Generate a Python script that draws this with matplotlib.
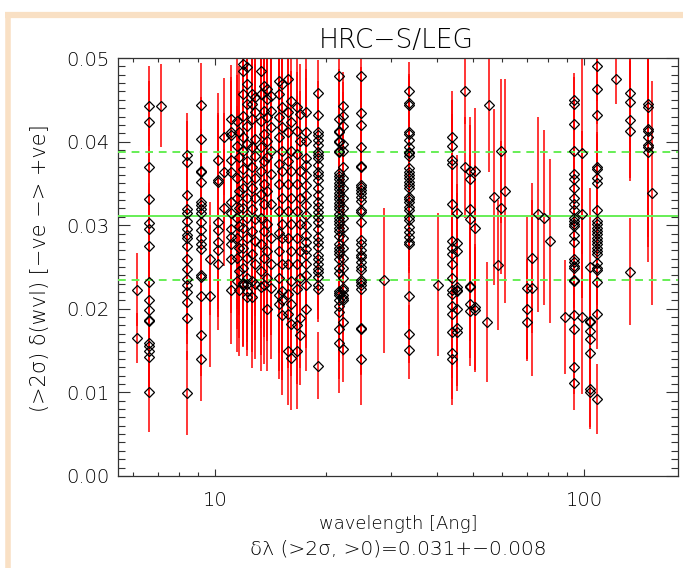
import numpy as np
import matplotlib
matplotlib.use('Agg')
import matplotlib.pyplot as plt
from matplotlib.lines import Line2D
from matplotlib.ticker import LogLocator, MultipleLocator, NullFormatter, FixedLocator, FixedFormatter

# wavelength of each line group [Ang]
line_wvl = [6.16, 6.64, 7.12, 8.38, 9.15, 9.67, 10.17, 10.58, 11.03, 11.45,
            11.6, 11.9, 12.2, 12.6, 12.85, 13.3, 13.55, 13.85, 14.2, 14.9,
            15.15, 15.75, 16.05, 16.7, 16.95, 17.6, 18.97,
            21.7, 22.2, 24.83, 28.77, 33.62, 40.28, 44.0, 45.2, 47.6, 49.2,
            50.7, 54.7, 55.4, 57.0, 58.5, 59.6, 61.1, 69.9, 72.2, 75.2,
            77.9, 80.9, 88.5, 94.1, 98.6, 103.8, 108.2, 122.1, 133.3, 148.8,
            152.6]

# measured wavelength shifts (>2 sigma) for each group
line_shift = [
    [0.0223, 0.0165],
    [0.0443, 0.0424, 0.0369, 0.0331, 0.0302, 0.0295, 0.0275, 0.0232, 0.0210, 0.0198,
     0.0186, 0.0185, 0.0159, 0.0155, 0.0150, 0.0142, 0.0100],
    [0.0443],
    [0.0384, 0.0375, 0.0336, 0.0319, 0.0315, 0.0305, 0.0295, 0.0288, 0.0285, 0.0275,
     0.0260, 0.0248, 0.0236, 0.0229, 0.0220, 0.0208, 0.0189, 0.0099],
    [0.0444, 0.0403, 0.0365, 0.0364, 0.0352, 0.0328, 0.0324, 0.0319, 0.0314, 0.0304,
     0.0294, 0.0285, 0.0277, 0.0271, 0.0240, 0.0238, 0.0215, 0.0169, 0.0140],
    [0.0260, 0.0215],
    [0.0378, 0.0354, 0.0352, 0.0304, 0.0294, 0.0280, 0.0270, 0.0254],
    [0.0406, 0.0364, 0.0321],
    [0.0427, 0.0412, 0.0408, 0.0378, 0.0364, 0.0328, 0.0314, 0.0296, 0.0286, 0.0278,
     0.0260, 0.0223],
    [0.0425, 0.0395, 0.0357, 0.0333, 0.0309, 0.0285, 0.0261, 0.0233],
    [0.0411, 0.0381, 0.0341, 0.0321, 0.0299, 0.0273, 0.0245, 0.0223],
    [0.0493, 0.0485, 0.0457, 0.0431, 0.0405, 0.0389, 0.0367, 0.0345, 0.0321, 0.0297,
     0.0273, 0.0249, 0.0229, 0.0231],
    [0.0489, 0.0469, 0.0445, 0.0419, 0.0397, 0.0377, 0.0355, 0.0333, 0.0309, 0.0285,
     0.0261, 0.0237, 0.0221, 0.0230, 0.0214],
    [0.0457, 0.0445, 0.0427, 0.0393, 0.0369, 0.0345, 0.0319, 0.0293, 0.0265, 0.0233,
     0.0214],
    [0.0453, 0.0435, 0.0403, 0.0383, 0.0357, 0.0333, 0.0307, 0.0281, 0.0253, 0.0230],
    [0.0485, 0.0457, 0.0425, 0.0393, 0.0365, 0.0337, 0.0309, 0.0277, 0.0245, 0.0226],
    [0.0467, 0.0437, 0.0409, 0.0377, 0.0349, 0.0325, 0.0293, 0.0261, 0.0229],
    [0.0463, 0.0451, 0.0429, 0.0401, 0.0381, 0.0341, 0.0301, 0.0269, 0.0237, 0.0200],
    [0.0455, 0.0437, 0.0417, 0.0389, 0.0361, 0.0325, 0.0285, 0.0253, 0.0225],
    [0.0473, 0.0457, 0.0429, 0.0405, 0.0373, 0.0349, 0.0317, 0.0291, 0.0269, 0.0237,
     0.0216, 0.0206],
    [0.0469, 0.0441, 0.0417, 0.0389, 0.0365, 0.0333, 0.0301, 0.0285, 0.0253, 0.0221,
     0.0210, 0.0192],
    [0.0475, 0.0435, 0.0411, 0.0377, 0.0349, 0.0317, 0.0285, 0.0253, 0.0218, 0.0194,
     0.0150],
    [0.0449, 0.0423, 0.0389, 0.0365, 0.0333, 0.0301, 0.0269, 0.0233, 0.0206, 0.0182,
     0.0141],
    [0.0441, 0.0413, 0.0385, 0.0349, 0.0317, 0.0285, 0.0253, 0.0224, 0.0180, 0.0150],
    [0.0433, 0.0401, 0.0365, 0.0333, 0.0301, 0.0269, 0.0237, 0.0189, 0.0169],
    [0.0435, 0.0412, 0.0401, 0.0380, 0.0372, 0.0360, 0.0348, 0.0336, 0.0324, 0.0312,
     0.0300, 0.0288, 0.0280, 0.0272, 0.0264, 0.0254, 0.0240, 0.0228, 0.0200],
    [0.0458, 0.0432, 0.0412, 0.0408, 0.0402, 0.0396, 0.0388, 0.0384, 0.0380, 0.0372,
     0.0364, 0.0360, 0.0354, 0.0344, 0.0336, 0.0328, 0.0322, 0.0316, 0.0310, 0.0304,
     0.0296, 0.0286, 0.0280, 0.0274, 0.0264, 0.0260, 0.0254, 0.0248, 0.0244, 0.0238,
     0.0228, 0.0224, 0.0132],
    [0.0478, 0.0427, 0.0413, 0.0411, 0.0401, 0.0399, 0.0389, 0.0387, 0.0363, 0.0359,
     0.0355, 0.0351, 0.0347, 0.0343, 0.0339, 0.0335, 0.0331, 0.0327, 0.0323, 0.0319,
     0.0313, 0.0309, 0.0305, 0.0301, 0.0297, 0.0293, 0.0287, 0.0277, 0.0273, 0.0269,
     0.0265, 0.0259, 0.0249, 0.0243, 0.0221, 0.0217, 0.0219, 0.0210, 0.0203, 0.0196,
     0.0176, 0.0159],
    [0.0443, 0.0431, 0.0419, 0.0397, 0.0389, 0.0369, 0.0357, 0.0345, 0.0333, 0.0321,
     0.0309, 0.0297, 0.0285, 0.0273, 0.0261, 0.0249, 0.0237, 0.0225, 0.0213, 0.0222,
     0.0216, 0.0210, 0.0184, 0.0152],
    [0.0478, 0.0434, 0.0420, 0.0394, 0.0371, 0.0370, 0.0348, 0.0346, 0.0342, 0.0338,
     0.0334, 0.0329, 0.0318, 0.0316, 0.0304, 0.0282, 0.0278, 0.0270, 0.0264, 0.0262,
     0.0256, 0.0250, 0.0246, 0.0234, 0.0228, 0.0224, 0.0232, 0.0177, 0.0176, 0.0140],
    [0.0234],
    [0.0460, 0.0446, 0.0444, 0.0411, 0.0409, 0.0402, 0.0394, 0.0388, 0.0386, 0.0383,
     0.0368, 0.0364, 0.0360, 0.0356, 0.0352, 0.0348, 0.0345, 0.0334, 0.0331, 0.0328,
     0.0322, 0.0318, 0.0310, 0.0306, 0.0298, 0.0292, 0.0286, 0.0280, 0.0278, 0.0215,
     0.0170, 0.0151],
    [0.0229],
    [0.0405, 0.0395, 0.0378, 0.0373, 0.0325, 0.0281, 0.0273, 0.0265, 0.0253, 0.0237,
     0.0223, 0.0218, 0.0203, 0.0194, 0.0172, 0.0147, 0.0140],
    [0.0314, 0.0279, 0.0269, 0.0221, 0.0226, 0.0223, 0.0200, 0.0177, 0.0172],
    [0.0461, 0.0369],
    [0.0365, 0.0355, 0.0319, 0.0307, 0.0226, 0.0227, 0.0206, 0.0197],
    [0.0365, 0.0297, 0.0202, 0.0199],
    [0.0184],
    [0.0444],
    [0.0334],
    [0.0252],
    [0.0389, 0.0321],
    [0.0341],
    [0.0225, 0.0200, 0.0184],
    [0.0261, 0.0225],
    [0.0313],
    [0.0309],
    [0.0281],
    [0.0190],
    [0.0450, 0.0445, 0.0421, 0.0389, 0.0361, 0.0355, 0.0344, 0.0333, 0.0325, 0.0318,
     0.0309, 0.0305, 0.0301, 0.0299, 0.0288, 0.0280, 0.0259, 0.0256, 0.0251, 0.0249,
     0.0233, 0.0234, 0.0193, 0.0176, 0.0130, 0.0111],
    [0.0386, 0.0313, 0.0190],
    [0.0250, 0.0185, 0.0184, 0.0173, 0.0164, 0.0147, 0.0104, 0.0100],
    [0.0491, 0.0463, 0.0432, 0.0369, 0.0367, 0.0356, 0.0350, 0.0318, 0.0305, 0.0301,
     0.0297, 0.0293, 0.0289, 0.0285, 0.0281, 0.0277, 0.0273, 0.0269, 0.0265, 0.0255,
     0.0249, 0.0246, 0.0232, 0.0194, 0.0092],
    [0.0475],
    [0.0458, 0.0447, 0.0426, 0.0413, 0.0244],
    [0.0445, 0.0441, 0.0415, 0.0413, 0.0405, 0.0396, 0.0394, 0.0387],
    [0.0338],
]

# 1-sigma error: one number for the whole group, or one per point
line_err = [
    [0.0044, 0.0030], 0.0048, [0.0050], 0.0050, 0.0050, [0.0068, 0.0085], 0.0080,
    0.0070, 0.0065, 0.0085, 0.0080, 0.0075, 0.0070, 0.0085, 0.0090, 0.0100, 0.0095,
    0.0075, 0.0085, 0.0090, 0.0095, 0.0065, 0.0062, 0.0070, 0.0060, 0.0075, 0.0040,
    0.0060, 0.0040, 0.0055, [0.0087], 0.0035, [0.0085],
    0.0055, 0.0070, [0.0040, 0.0060], 0.0065, 0.0075, [0.0072], [0.0080], [0.0105],
    [0.0078], [0.0086, 0.0080], [0.0134], [0.0085, 0.0060, 0.0046], [0.0090, 0.0105],
    [0.0117], [0.0105], [0.0098], [0.0068], 0.0032, [0.0120, 0.0100, 0.0092],
    [0.0095, 0.0060, 0.0060, 0.0055, 0.0055, 0.0050, 0.0045, 0.0044], 0.0042,
    [0.0030], [0.0060, 0.0060, 0.0070, 0.0060, 0.0064],
    [0.0060, 0.0065, 0.0080, 0.0090, 0.0100, 0.0110, 0.0120, 0.0131], [0.0134],
]

mean_shift = 0.0311
sd_shift = 0.0077

plt.rcParams['font.family'] = ['DejaVu Sans']
plt.rcParams['font.size'] = 14
plt.rcParams['font.weight'] = 200

fig = plt.figure(figsize=(6.83, 5.68), dpi=100)
ax = fig.add_axes([118.3 / 683, 92.1 / 568, 560 / 683, 417.9 / 568])

xs_all, ys_all = [], []
for wl, ys, err in zip(line_wvl, line_shift, line_err):
    ys = np.array(ys)
    if isinstance(err, list):
        e = np.array(err)
    else:
        e = np.full(len(ys), err)
    xs = np.full(len(ys), wl)
    ax.vlines(xs, ys - e, ys + e, colors='#ff0000', lw=1.3, alpha=0.85, zorder=2)
    xs_all.extend(xs)
    ys_all.extend(ys)

ax.plot(xs_all, ys_all, 'D', ms=4.8, mfc='none', mec='black', mew=0.9, zorder=4)

green = '#66ee55'
ax.axhline(mean_shift, color=green, lw=1.4, zorder=3)
ax.axhline(mean_shift + sd_shift, color=green, lw=1.4, ls=(0, (4, 3)), zorder=3)
ax.axhline(mean_shift - sd_shift, color=green, lw=1.4, ls=(0, (4, 3)), zorder=3)

ax.set_xscale('log')
ax.set_xlim(5.47, 180)
ax.set_ylim(0, 0.05)
ax.xaxis.set_major_locator(FixedLocator([10, 100]))
ax.xaxis.set_major_formatter(FixedFormatter(['10', '100']))
ax.xaxis.set_minor_locator(LogLocator(base=10, subs=np.arange(2, 10)))
ax.xaxis.set_minor_formatter(NullFormatter())
ax.yaxis.set_major_locator(MultipleLocator(0.01))
ax.yaxis.set_minor_locator(MultipleLocator(0.001))
ax.yaxis.set_major_formatter(plt.FuncFormatter(lambda v, p: '%.2f' % v))

axis_col = '#333333'
for s in ax.spines.values():
    s.set_color(axis_col)
    s.set_linewidth(0.9)
ax.tick_params(axis='both', which='both', direction='in', top=True, right=True,
               color=axis_col, width=0.8, labelcolor='black', labelsize=14)
ax.tick_params(axis='x', which='major', length=5.3, pad=11)
ax.tick_params(axis='x', which='minor', length=2.6)
ax.tick_params(axis='y', which='major', length=8.4, pad=6)
ax.tick_params(axis='y', which='minor', length=4.8)

txt_col = 'black'
fig.text(396 / 683, 1 - 40 / 568, 'HRC\u2212S/LEG', ha='center', va='center',
         fontsize=19, color=txt_col)
fig.text(398 / 683, 1 - 524 / 568, 'wavelength [Ang]', ha='center', va='center',
         fontsize=13, color=txt_col)
fig.text(398 / 683, 1 - 549 / 568,
         '\u03b4\u03bb (>2\u03c3, >0)=%.3f+\u2212%.3f' % (mean_shift, sd_shift),
         ha='center', va='center', fontsize=14.5, color=txt_col)
fig.text(40 / 683, 1 - 268 / 568, '(>2\u03c3) \u03b4(wvl) [\u2212ve \u2212> +ve]',
         ha='center', va='center', rotation=90, fontsize=15, color=txt_col)

# peach page frame
frame = '#f9e0c4'
fig.add_artist(Line2D([5 / 683, 1.0], [1 - 15 / 568] * 2, transform=fig.transFigure,
                      color=frame, lw=4.5, solid_capstyle='butt'))
fig.add_artist(Line2D([7.5 / 683] * 2, [0, 1 - 12 / 568], transform=fig.transFigure,
                      color=frame, lw=4, solid_capstyle='butt'))

fig.savefig('out.png', dpi=100)
